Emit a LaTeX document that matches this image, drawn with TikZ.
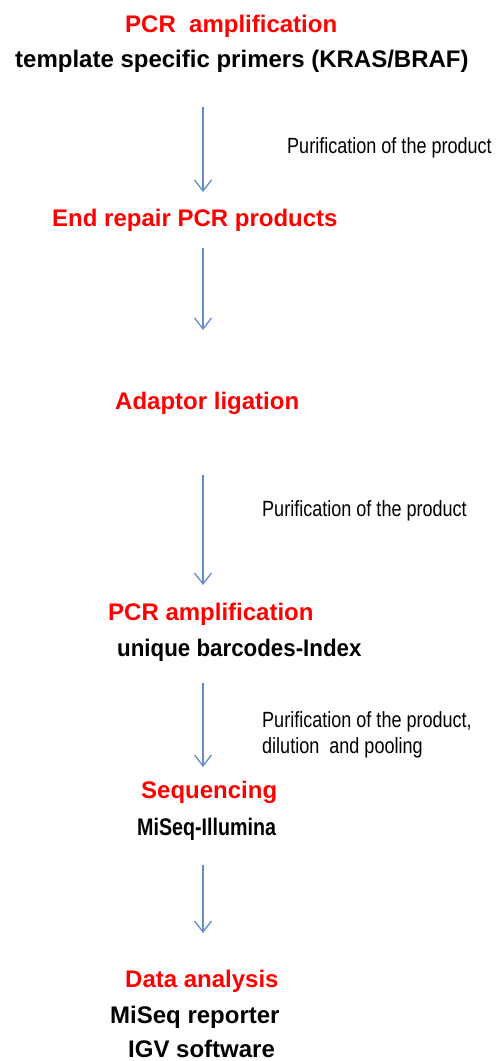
\documentclass[tikz,border=0pt]{standalone}
\usepackage{fontspec}
\setmainfont{Liberation Sans}
\newfontfamily\narrowf{Liberation Sans}[FakeStretch=0.82]
\usetikzlibrary{arrows.meta}
\definecolor{arrowblue}{RGB}{100,140,200}
\definecolor{stepred}{RGB}{255,0,0}
\tikzset{
  redtitle/.style={anchor=base west,inner sep=0pt,text=stepred,font=\fontsize{24}{28}\selectfont\bfseries},
  blacksub/.style={anchor=base west,inner sep=0pt,text=black,font=\fontsize{24}{28}\selectfont\bfseries},
  note/.style={anchor=base west,inner sep=0pt,text=black,font=\narrowf\fontsize{22}{26}\selectfont},
  flowarrow/.style={draw=arrowblue,line width=1.3pt,-{Straight Barb[length=11pt,width=17pt,line width=1.3pt]}}
}
\begin{document}
\begin{tikzpicture}[x=1pt,y=-1pt]
\useasboundingbox (0,0) rectangle (498,1061);
\node[redtitle] (pcr1) at (125,32) {PCR~~amplification};
\node[blacksub] (tmpl) at (15,67) {template specific primers (KRAS/BRAF)};
\node[note] (pur1) at (287,153) {Purification of the product};
\node[redtitle] (endr) at (52,226) {End repair PCR products};
\node[redtitle] (adap) at (115,409) {Adaptor ligation};
\node[note] (pur2) at (262,516) {Purification of the product};
\node[redtitle] (pcr2) at (108,620) {PCR amplification};
\node[blacksub] (uniq) at (117,656) {\scalebox{0.93}[1]{unique barcodes-Index}};
\node[note] (pur3a) at (262,727) {Purification of the product,};
\node[note] (pur3b) at (262,753) {dilution~~and pooling};
\node[redtitle] (seq) at (141,798) {Sequencing};
\node[blacksub] (mil) at (137,835) {\scalebox{0.82}[1]{MiSeq-Illumina}};
\node[redtitle] (data) at (125,987) {Data analysis};
\node[blacksub] (msr) at (110,1023) {MiSeq reporter};
\node[blacksub] (igv) at (128,1057) {IGV software};
\coordinate (a1s) at (203,107); \coordinate (a1e) at (203,192);
\coordinate (a2s) at (203,248); \coordinate (a2e) at (203,330);
\coordinate (a3s) at (203,475); \coordinate (a3e) at (203,585);
\coordinate (a4s) at (203,683); \coordinate (a4e) at (203,767);
\coordinate (a5s) at (203,865); \coordinate (a5e) at (203,933);
\draw[flowarrow] (a1s) -- (a1e);
\draw[flowarrow] (a2s) -- (a2e);
\draw[flowarrow] (a3s) -- (a3e);
\draw[flowarrow] (a4s) -- (a4e);
\draw[flowarrow] (a5s) -- (a5e);
\end{tikzpicture}
\end{document}
